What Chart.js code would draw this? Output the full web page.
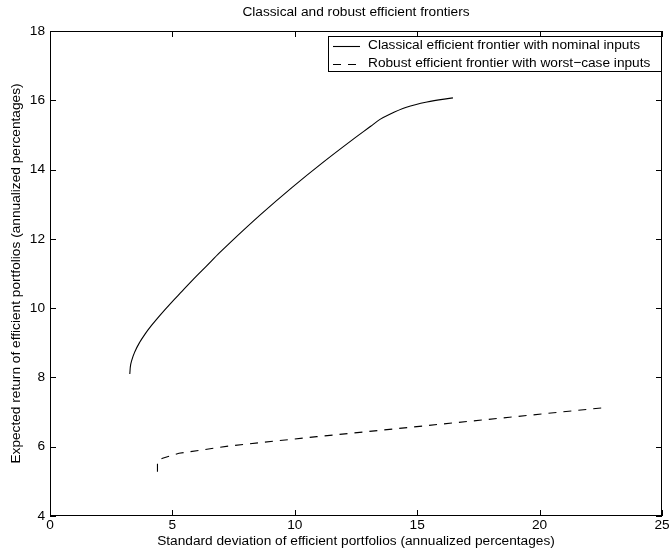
<!DOCTYPE html>
<html><head><meta charset="utf-8">
<script src="https://cdn.jsdelivr.net/npm/chart.js@4/dist/chart.umd.min.js"></script>
<style>html,body{margin:0;padding:0;background:#fff}#wrap{width:670px;height:550px}</style>
</head><body><div id="wrap"><canvas id="c" width="670" height="550"></canvas></div>
<script>
// ---- data ----
const classicalX = [3.26, 3.281, 3.342, 3.471, 3.653, 3.881, 4.147, 4.50, 4.93, 5.40, 5.88, 6.40, 6.93, 7.37, 8.60, 9.88, 11.10, 12.39, 13.10, 13.48, 13.88, 14.56, 15.40, 16.46];
const classicalY = [8.10, 8.30, 8.50, 8.75, 9.00, 9.25, 9.50, 9.80, 10.14, 10.49, 10.85, 11.22, 11.60, 11.90, 12.70, 13.48, 14.18, 14.88, 15.25, 15.45, 15.60, 15.80, 15.95, 16.07];
const robustX = [4.39, 4.39, 4.45, 4.60, 5.27, 7.30, 9.27, 10.90, 14.70, 18.77, 22.68];
const robustY = [5.28, 5.55, 5.62, 5.67, 5.81, 6.02, 6.17, 6.29, 6.56, 6.85, 7.13];
const xTickValues = [0, 5, 10, 15, 20, 25];
const yTickValues = [4, 6, 8, 10, 12, 14, 16, 18];
const seriesLabels = ['Classical efficient frontier with nominal inputs', 'Robust efficient frontier with worst\u2212case inputs'];
const titleText = 'Classical and robust efficient frontiers';
const xTitleText = 'Standard deviation of efficient portfolios (annualized percentages)';
const yTitleText = 'Expected return of efficient portfolios (annualized percentages)';

const FAMILY = '"Liberation Sans", Arial, Helvetica, sans-serif';
const FS = 13.7;

const toPts = (xs, ys) => xs.map((x, i) => ({x: x, y: ys[i]}));

const framePlugin = {
  id: 'frame',
  afterDatasetsDraw(chart) {
    const {ctx, chartArea: a, scales} = chart;
    const sx = scales.x, sy = scales.y;
    ctx.save();
    ctx.strokeStyle = '#000';
    ctx.lineWidth = 1;
    ctx.setLineDash([]);
    ctx.strokeRect(Math.round(a.left) + 0.5, Math.round(a.top) + 0.5, Math.round(a.right - a.left) - 1, Math.round(a.bottom - a.top) - 1);
    ctx.beginPath();
    const L = 6;
    xTickValues.forEach(v => {
      const p = Math.round(sx.getPixelForValue(v)) + 0.5;
      ctx.moveTo(p, a.bottom); ctx.lineTo(p, a.bottom - L);
      ctx.moveTo(p, a.top); ctx.lineTo(p, a.top + L);
    });
    yTickValues.forEach(v => {
      const p = Math.round(sy.getPixelForValue(v)) + 0.5;
      ctx.moveTo(a.left, p); ctx.lineTo(a.left + L, p);
      ctx.moveTo(a.right, p); ctx.lineTo(a.right - L, p);
    });
    ctx.stroke();
    ctx.restore();
  },
  afterDraw(chart) {
    const {ctx, chartArea: a} = chart;
    ctx.save();
    // title centred over the plot area
    ctx.font = FS + 'px ' + FAMILY;
    ctx.fillStyle = '#000';
    ctx.textAlign = 'center';
    ctx.textBaseline = 'middle';
    ctx.fillText(titleText, (a.left + a.right) / 2, 12.5);
    // legend box
    const x0 = Math.round(a.right) - 334, y0 = Math.round(a.top) + 5, w = 333, h = 35;
    ctx.fillStyle = '#fff';
    ctx.fillRect(x0, y0, w, h);
    ctx.strokeStyle = '#000';
    ctx.lineWidth = 1;
    ctx.setLineDash([]);
    ctx.strokeRect(x0 + 0.5, y0 + 0.5, w, h);
    ctx.textAlign = 'left';
    ctx.fillStyle = '#000';
    chart.data.datasets.forEach((ds, i) => {
      const yy = y0 + 9.5 + i * 18;
      ctx.beginPath();
      ctx.setLineDash(ds.borderDash || []);
      ctx.strokeStyle = ds.borderColor;
      ctx.lineWidth = ds.borderWidth;
      ctx.moveTo(x0 + 5, Math.round(yy) + 0.5);
      ctx.lineTo(x0 + 32, Math.round(yy) + 0.5);
      ctx.stroke();
      ctx.setLineDash([]);
      ctx.fillText(ds.label, x0 + 40, yy);
    });
    ctx.restore();
  }
};

new Chart(document.getElementById('c'), {
  type: 'scatter',
  data: {
    datasets: [
      {label: seriesLabels[0], data: toPts(classicalX, classicalY), showLine: true, borderColor: '#000', backgroundColor: '#000', borderWidth: 1.1, pointRadius: 0, cubicInterpolationMode: 'monotone'},
      {label: seriesLabels[1], data: toPts(robustX, robustY), showLine: true, borderColor: '#000', backgroundColor: '#000', borderWidth: 1.1, pointRadius: 0, tension: 0, borderDash: [8, 7]}
    ]
  },
  options: {
    responsive: false,
    animation: false,
    devicePixelRatio: 1,
    layout: {padding: {left: 0, right: 8, top: 31, bottom: 0}},
    plugins: {
      legend: {display: false},
      tooltip: {enabled: false},
      title: {display: false}
    },
    scales: {
      x: {
        type: 'linear', min: 0, max: 25,
        afterBuildTicks: s => { s.ticks = xTickValues.map(v => ({value: v})); },
        afterFit: s => { s.height = 34; s.paddingLeft = 0; s.paddingRight = 0; },
        grid: {display: false, drawTicks: false},
        border: {display: false},
        ticks: {color: '#000', font: {family: FAMILY, size: FS}, padding: 1, maxRotation: 0, autoSkip: false},
        title: {display: true, text: xTitleText, color: '#000', font: {family: FAMILY, size: FS}, padding: {top: 0, bottom: 1}}
      },
      y: {
        type: 'linear', min: 4, max: 18,
        afterBuildTicks: s => { s.ticks = yTickValues.map(v => ({value: v})); },
        afterFit: s => { s.width = 50; s.paddingTop = 0; s.paddingBottom = 0; },
        grid: {display: false, drawTicks: false},
        border: {display: false},
        ticks: {color: '#000', font: {family: FAMILY, size: FS}, padding: 5, autoSkip: false},
        title: {display: true, text: yTitleText, color: '#000', font: {family: FAMILY, size: FS}, padding: {top: 8, bottom: 0}}
      }
    }
  },
  plugins: [framePlugin]
});
</script>
</body></html>
